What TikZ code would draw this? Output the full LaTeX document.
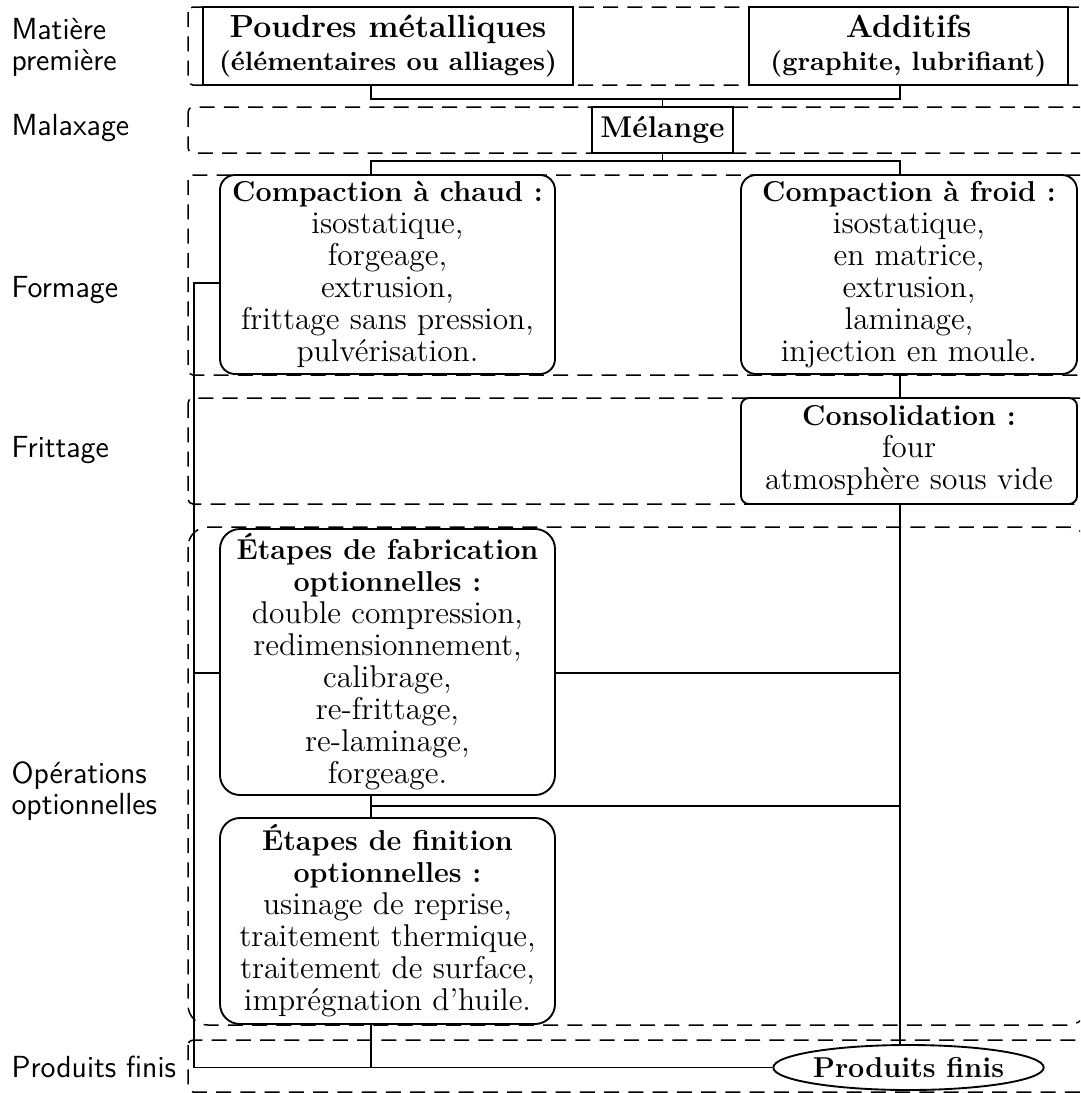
\documentclass[tikz,border=0pt]{standalone}
\usetikzlibrary{shapes.geometric}
\newcommand\hdg[1]{{\fontsize{11.5}{12.8}\selectfont\bfseries #1}}
\tikzset{
  band/.style={draw, dash pattern=on 6pt off 3.7pt, line width=0.6pt, rounded corners=2pt},
  bigband/.style={draw, dash pattern=on 6pt off 3.7pt, line width=0.6pt, rounded corners=8pt},
  sqbox/.style={draw, fill=white, line width=0.75pt, inner sep=0pt, align=center},
  rbox/.style={draw, fill=white, line width=0.75pt, rounded corners=6pt, inner sep=0pt, align=center,
               minimum width=134pt, font=\fontsize{12.6}{12.8}\selectfont},
  conn/.style={line width=0.75pt},
  lab/.style={anchor=west, align=left, inner sep=0pt, font=\sffamily\fontsize{12.2}{12.4}\selectfont},
}
\begin{document}
\begin{tikzpicture}[x=0.4pt,y=-0.4pt]
\useasboundingbox (0,0) rectangle (1080,1093);
\clip (0,0) rectangle (1080,1093);
% row bands
\draw[band] (188,7) rectangle (1095,85);
\draw[band] (188,107) rectangle (1095,153);
\draw[band] (188,175) rectangle (1095,375);
\draw[band] (188,398) rectangle (1095,504);
\draw[bigband] (188,527) rectangle (1088,1025);
\draw[band] (188,1040) rectangle (1095,1092);
% row labels
\node[lab] (l1) at (11,47.5) {Matière\\première};
\node[lab] (l2) at (11,128) {Malaxage};
\node[lab] (l3) at (11,290) {Formage};
\node[lab] (l4) at (11,450) {Frittage};
\node[lab] (l5) at (11,791.5) {Opérations\\optionnelles};
\node[lab] (l6) at (11,1067) {Produits finis};
% column coordinates
\coordinate (cA) at (371,0);
\coordinate (cB) at (900,0);
\coordinate (cL) at (194,0);
\coordinate (r1) at (0,99);
\coordinate (r2) at (0,161);
\coordinate (r3) at (0,283);
\coordinate (r4) at (0,673);
\coordinate (r5) at (0,806);
% nodes
\node[sqbox, minimum width=148pt, minimum height=31.2pt,
      font=\fontsize{12.8}{13.2}\selectfont\bfseries] (poudres) at (388,46)
  {Poudres métalliques\\\fontsize{10.6}{13.2}\selectfont (élémentaires ou alliages)};
\node[sqbox, minimum width=127.6pt, minimum height=31.2pt,
      font=\fontsize{12.8}{13.2}\selectfont\bfseries] (additifs) at (908.5,46)
  {Additifs\\\fontsize{10.6}{13.2}\selectfont (graphite, lubrifiant)};
\node[sqbox, minimum width=56.4pt, minimum height=18.4pt,
      font=\fontsize{12}{13.2}\selectfont\bfseries] (melange) at (662.5,130) {Mélange};
\node[rbox, minimum height=79.6pt] (chaud) at (387.5,274.5)
  {\hdg{Compaction à chaud :}\\isostatique,\\forgeage,\\extrusion,\\frittage sans pression,\\pulvérisation.};
\node[rbox, minimum width=134.4pt, minimum height=79.6pt] (froid) at (909,274.5)
  {\hdg{Compaction à froid :}\\isostatique,\\en matrice,\\extrusion,\\laminage,\\injection en moule.};
\node[rbox, minimum width=134.4pt, minimum height=42.4pt, rounded corners=3.2pt] (consol) at (909,451)
  {\hdg{Consolidation :}\\four\\atmosphère sous vide};
\node[rbox, minimum height=106.4pt, rounded corners=8pt] (fab) at (387.5,662)
  {\hdg{Étapes de fabrication}\\\hdg{optionnelles :}\\double compression,\\redimensionnement,\\calibrage,\\re-frittage,\\re-laminage,\\forgeage.};
\node[rbox, minimum height=82.4pt, rounded corners=8pt] (fin) at (387.5,921)
  {\hdg{Étapes de finition}\\\hdg{optionnelles :}\\usinage de reprise,\\traitement thermique,\\traitement de surface,\\imprégnation d’huile.};
\node[ellipse, draw, fill=white, line width=0.75pt, inner sep=0pt, minimum width=106pt, minimum height=18pt,
      font=\fontsize{11.5}{12.8}\selectfont\bfseries] (ell) at (908.5,1067.5) {Produits finis};
% connectors
\draw[conn] (cA |- poudres.south) -- (cA |- r1) -- (cB |- r1) -- (cB |- additifs.south);
\draw[conn] (melange.north) -- (melange.north |- r1);
\draw[conn] (melange.south) -- (melange.south |- r2);
\draw[conn] (cA |- chaud.north) -- (cA |- r2) -- (cB |- r2) -- (cB |- froid.north);
\draw[conn] (cB |- froid.south) -- (cB |- consol.north);
\draw[conn] (cB |- consol.south) -- (cB |- ell.north);
\draw[conn] (chaud.west |- r3) -- (cL |- r3) -- (cL |- ell.west) -- (ell.west);
\draw[conn] (fab.west |- r4) -- (cL |- r4);
\draw[conn] (fab.east |- r4) -- (cB |- r4);
\draw[conn] (cA |- fab.south) -- (cA |- fin.north);
\draw[conn] (cA |- r5) -- (cB |- r5);
\draw[conn] (cA |- fin.south) -- (cA |- ell.west);
\end{tikzpicture}
\end{document}
